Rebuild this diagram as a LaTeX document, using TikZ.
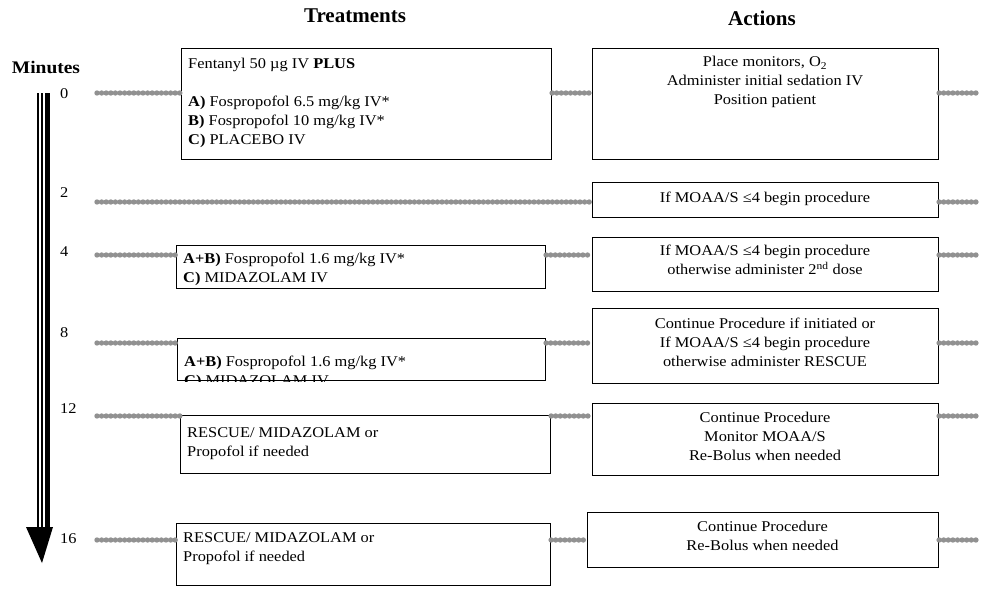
\documentclass[tikz,border=0pt]{standalone}
\usepackage{fontspec}
\setmainfont{Liberation Serif}[FakeStretch=1.1]
\newfontfamily\hdfont{Liberation Serif}
\definecolor{dotgray}{RGB}{145,145,145}
\tikzset{
  box/.style={draw=black, line width=1.1pt, rectangle, inner sep=0pt, anchor=north west},
  txt/.style={inner sep=0pt, font=\fontsize{14.9}{19}\selectfont},
  ltxt/.style={txt, anchor=north west, align=left},
  ctxt/.style={txt, anchor=north, align=center},
  dotline/.style={draw=dotgray, line width=5.4pt, line cap=round, dash pattern=on 0pt off 4.6pt},
  minlab/.style={txt, anchor=west},
  hdr/.style={inner sep=0pt, font=\hdfont\bfseries\fontsize{21}{25}\selectfont},
  minhdr/.style={inner sep=0pt, font=\bfseries\fontsize{17.7}{20}\selectfont},
}
\begin{document}
\begin{tikzpicture}[x=1pt,y=-1pt]
\useasboundingbox (0,0) rectangle (1000,593);

% headers
\node[hdr] (hTreat) at (355,16) {Treatments};
\node[hdr] (hAct) at (762,18) {Actions};
\node[minhdr] (hMin) at (46,67) {Minutes};

% time arrow
\fill (37,93) rectangle (39,527);
\fill (41,93) rectangle (43,527);
\fill (45,93) rectangle (50,527);
\fill (26,527) -- (53,527) -- (42,563) -- cycle;

% minute labels
\node[minlab] (m0) at (60,94) {0};
\node[minlab] (m2) at (60,193) {2};
\node[minlab] (m4) at (60,252) {4};
\node[minlab] (m8) at (60,333) {8};
\node[minlab] (m12) at (60,409) {12};
\node[minlab] (m16) at (60,539) {16};

% boxes
\node[box, minimum width=370pt, minimum height=111pt] (T1) at (181,48) {};
\node[box, minimum width=369pt, minimum height=43pt] (T2) at (176,245) {};
\node[box, minimum width=368pt, minimum height=42pt] (T3) at (177,338) {};
\node[box, minimum width=370pt, minimum height=58pt] (T4) at (180,415) {};
\node[box, minimum width=374pt, minimum height=62pt] (T5) at (176,523) {};
\node[box, minimum width=346pt, minimum height=111pt] (A1) at (592,48) {};
\node[box, minimum width=346pt, minimum height=35pt] (A2) at (592,182) {};
\node[box, minimum width=346pt, minimum height=54pt] (A3) at (592,237) {};
\node[box, minimum width=346pt, minimum height=75pt] (A4) at (592,308) {};
\node[box, minimum width=346pt, minimum height=72pt] (A5) at (592,403) {};
\node[box, minimum width=351pt, minimum height=55pt] (A6) at (587,512) {};

% treatment texts
\node[ltxt] (T1t) at (188,55.0) {\strut Fentanyl 50 µg IV \textbf{PLUS}\\ \strut\\ \strut\textbf{A)} Fospropofol 6.5 mg/kg IV*\\ \strut\textbf{B)} Fospropofol 10 mg/kg IV*\\ \strut\textbf{C)} PLACEBO IV};
\node[ltxt] (T2t) at (183,250.0) {\strut\textbf{A+B)} Fospropofol 1.6 mg/kg IV*\\ \strut\textbf{C)} MIDAZOLAM IV};
\begin{scope}
  \clip ([shift={(0.6pt,-0.6pt)}]T3.south west) rectangle ([shift={(-0.6pt,0.6pt)}]T3.north east);
  \node[ltxt] (T3t) at (184,352.5) {\strut\textbf{A+B)} Fospropofol 1.6 mg/kg IV*\\ \strut\textbf{C)} MIDAZOLAM IV};
\end{scope}
\node[ltxt] (T4t) at (187,424.0) {\strut RESCUE/ MIDAZOLAM or\\ \strut Propofol if needed};
\node[ltxt] (T5t) at (183,529.0) {\strut RESCUE/ MIDAZOLAM or\\ \strut Propofol if needed};

% action texts
\node[ctxt] (A1t) at (765,53.5) {\strut Place monitors, O\textsubscript{2}\\ \strut Administer initial sedation IV\\ \strut Position patient};
\node[ctxt] (A2t) at (765,189.5) {\strut If MOAA/S ≤4 begin procedure};
\node[ctxt] (A3t) at (765,242.5) {\strut If MOAA/S ≤4 begin procedure\\ \strut otherwise administer 2\textsuperscript{nd} dose};
\node[ctxt] (A4t) at (765,314.5) {\strut Continue Procedure if initiated or\\ \strut If MOAA/S ≤4 begin procedure\\ \strut otherwise administer RESCUE};
\node[ctxt] (A5t) at (765,408.5) {\strut Continue Procedure\\ \strut Monitor MOAA/S\\ \strut Re-Bolus when needed};
\node[ctxt] (A6t) at (762.5,517.5) {\strut Continue Procedure\\ \strut Re-Bolus when needed};

% dotted time lines
\coordinate (s0) at (97,93);  \coordinate (e0) at (977,93);
\coordinate (s2) at (97,202); \coordinate (e2) at (977,202);
\coordinate (s4) at (97,255); \coordinate (e4) at (977,255);
\coordinate (s8) at (97,343); \coordinate (e8) at (977,343);
\coordinate (s12) at (97,416); \coordinate (e12) at (977,416);
\coordinate (s16) at (97,540); \coordinate (e16) at (977,540);

\draw[dotline] (s0) -- (s0 -| T1.west);
\draw[dotline] (T1.east |- s0) -- (A1.west |- s0);
\draw[dotline] (A1.east |- s0) -- (e0);

\draw[dotline] (s2) -- (s2 -| A2.west);
\draw[dotline] (A2.east |- s2) -- (e2);

\draw[dotline] (s4) -- (s4 -| T2.west);
\draw[dotline] (T2.east |- s4) -- (A3.west |- s4);
\draw[dotline] (A3.east |- s4) -- (e4);

\draw[dotline] (s8) -- (s8 -| T3.west);
\draw[dotline] (T3.east |- s8) -- (A4.west |- s8);
\draw[dotline] (A4.east |- s8) -- (e8);

\draw[dotline] (s12) -- (s12 -| T4.west);
\draw[dotline] (T4.east |- s12) -- (A5.west |- s12);
\draw[dotline] (A5.east |- s12) -- (e12);

\draw[dotline] (s16) -- (s16 -| T5.west);
\draw[dotline] (T5.east |- s16) -- (A6.west |- s16);
\draw[dotline] (A6.east |- s16) -- (e16);
\end{tikzpicture}
\end{document}
